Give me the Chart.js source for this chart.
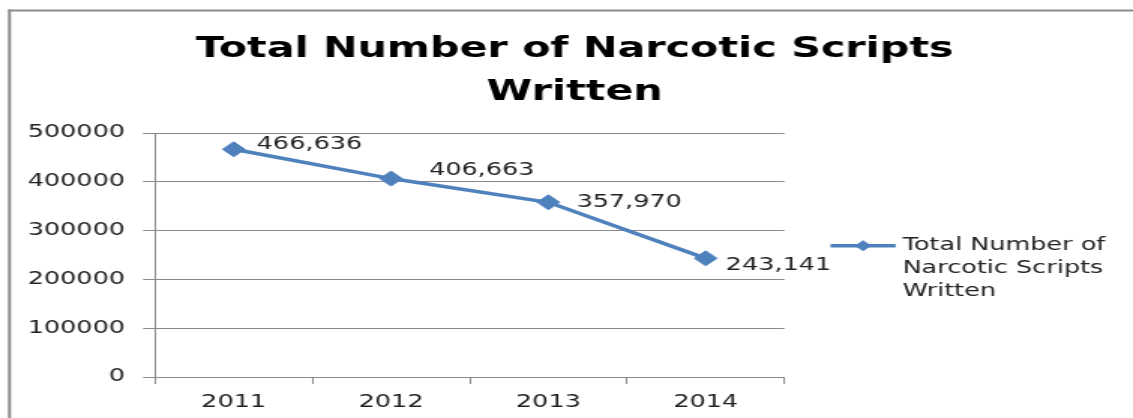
<!DOCTYPE html>
<html><head><meta charset="utf-8">
<script src="https://cdn.jsdelivr.net/npm/chart.js@4.4.1/dist/chart.umd.min.js"></script>
<style>
html,body{margin:0;padding:0;background:#fff;overflow:hidden;}
#wrap{position:absolute;left:0;top:0;width:755px;height:418px;transform:scaleX(1.50066);transform-origin:0 0;}
canvas{display:block;}
</style></head><body>
<div id="wrap"><canvas id="c" width="755" height="418"></canvas></div>
<script>
const categories = ['2011', '2012', '2013', '2014'];
const scriptsWritten = [466636, 406663, 357970, 243141];
const yTicks = [0, 100000, 200000, 300000, 400000, 500000];
const titleLines = ['Total Number of Narcotic Scripts', 'Written'];
const seriesName = 'Total Number of Narcotic Scripts Written';
const legendLines = ['Total Number of', 'Narcotic Scripts', 'Written'];

const FONT = 'DejaVu Sans';
const gridColor = '#8a8a8a';
const textColor = '#222222';
const lineColor = '#4F81BD';

const frame = {
  id: 'frame',
  beforeDraw(chart) {
    const ctx = chart.ctx;
    ctx.save();
    ctx.fillStyle = '#ffffff';
    ctx.fillRect(0, 0, chart.width, chart.height);
    ctx.fillStyle = '#8c8c8c';
    ctx.fillRect(5.3, 9.5, chart.width, 2);
    ctx.fillRect(5.3, 9.5, 2, chart.height);
    ctx.restore();
  }
};

const pointLabels = {
  id: 'pointLabels',
  afterDatasetsDraw(chart, args, opts) {
    const ctx = chart.ctx;
    const meta = chart.getDatasetMeta(0);
    const ds = chart.data.datasets[0];
    ctx.save();
    ctx.font = opts.font;
    ctx.fillStyle = opts.color;
    ctx.textAlign = 'left';
    ctx.textBaseline = 'middle';
    meta.data.forEach((pt, i) => {
      const off = opts.offsets[i];
      ctx.fillText(ds.data[i].toLocaleString('en-US'), pt.x + off[0], pt.y + off[1]);
    });
    ctx.restore();
  }
};

const sideLegend = {
  id: 'sideLegend',
  afterDraw(chart, args, opts) {
    const ctx = chart.ctx;
    const ds = chart.data.datasets[0];
    const a = chart.chartArea;
    const x0 = a.right + opts.gap;
    const y0 = opts.y;
    ctx.save();
    ctx.strokeStyle = ds.borderColor;
    ctx.lineWidth = ds.borderWidth;
    ctx.beginPath();
    ctx.moveTo(x0, y0);
    ctx.lineTo(x0 + opts.lineLen, y0);
    ctx.stroke();
    ctx.fillStyle = ds.pointBackgroundColor;
    ctx.strokeStyle = ds.pointBorderColor;
    ctx.lineWidth = 1;
    Chart.helpers.drawPoint(ctx, {pointStyle: 'rectRot', radius: opts.markerRadius, borderWidth: 1, rotation: 0}, x0 + opts.lineLen / 2, y0);
    ctx.font = opts.font;
    ctx.fillStyle = opts.color;
    ctx.textAlign = 'left';
    ctx.textBaseline = 'middle';
    opts.lines.forEach((t, i) => ctx.fillText(t, x0 + opts.lineLen + opts.textGap, y0 + i * opts.lineSpacing));
    ctx.restore();
  }
};

new Chart(document.getElementById('c'), {
  type: 'line',
  data: {
    labels: categories,
    datasets: [{
      label: seriesName,
      data: scriptsWritten,
      borderColor: lineColor,
      backgroundColor: lineColor,
      borderWidth: 3.5,
      tension: 0,
      pointStyle: 'rectRot',
      pointRadius: 7.5,
      pointBackgroundColor: lineColor,
      pointBorderColor: lineColor,
      pointBorderWidth: 1
    }]
  },
  options: {
    responsive: false,
    animation: false,
    devicePixelRatio: 1,
    layout: {padding: {left: 11, right: 0, top: 0, bottom: 0}},
    scales: {
      x: {
        type: 'category',
        offset: true,
        grid: {display: true, offset: true, drawOnChartArea: false, drawTicks: true, tickLength: 7, color: gridColor},
        border: {display: true, color: gridColor, width: 1},
        ticks: {font: {family: FONT, size: 17}, color: textColor, padding: 8},
        afterFit(s) { s.height = 41; }
      },
      y: {
        min: yTicks[0],
        max: yTicks[yTicks.length - 1],
        ticks: {stepSize: yTicks[1] - yTicks[0], font: {family: FONT, size: 17}, color: textColor, padding: 12, callback: v => String(v)},
        grid: {color: gridColor, tickLength: 8, drawTicks: true},
        border: {display: true, color: gridColor, width: 1},
        afterFit(s) { s.width = 92.3; }
      },
      yR: {
        position: 'right',
        display: true,
        grid: {display: false},
        ticks: {display: false},
        border: {display: false},
        afterFit(s) { s.width = 232.3; }
      }
    },
    plugins: {
      legend: {display: false},
      tooltip: {enabled: false},
      title: {
        display: true,
        text: titleLines,
        color: '#000000',
        font: {family: FONT, size: 27.5, weight: 'bold', lineHeight: 1.564},
        padding: {top: 28.5, bottom: 18.5}
      },
      pointLabels: {
        font: '17px "DejaVu Sans"',
        color: textColor,
        offsets: [[15.3, -5], [25.3, -7.5], [18.7, 0.5], [13.3, 7.5]]
      },
      sideLegend: {
        gap: 30.7,
        y: 245.7,
        lineLen: 43.4,
        markerRadius: 5,
        textGap: 4.6,
        lineSpacing: 23,
        font: '17px "DejaVu Sans"',
        color: textColor,
        lines: legendLines
      }
    }
  },
  plugins: [frame, pointLabels, sideLegend]
});
</script>
</body></html>
